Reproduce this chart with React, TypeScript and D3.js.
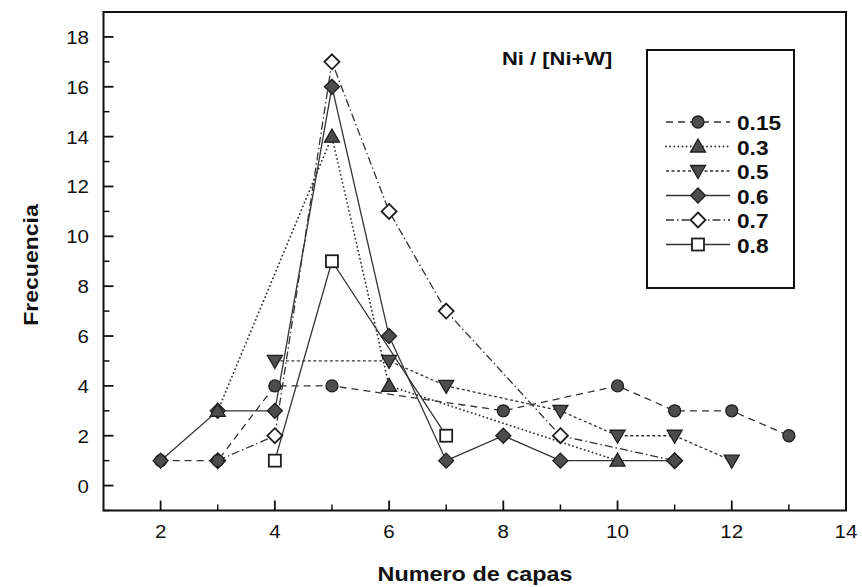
import React from "react";
import * as d3 from "d3";

const seriesLabels = ["0.15", "0.3", "0.5", "0.6", "0.7", "0.8"];
const x015 = [2, 3, 4, 5, 8, 10, 11, 12, 13];
const y015 = [1, 1, 4, 4, 3, 4, 3, 3, 2];
const x03 = [3, 5, 6, 10];
const y03 = [3, 14, 4, 1];
const x05 = [4, 6, 7, 9, 10, 11, 12];
const y05 = [5, 5, 4, 3, 2, 2, 1];
const x06 = [2, 3, 4, 5, 6, 7, 8, 9, 11];
const y06 = [1, 3, 3, 16, 6, 1, 2, 1, 1];
const x07 = [3, 4, 5, 6, 7, 9, 11];
const y07 = [1, 2, 17, 11, 7, 2, 1];
const x08 = [4, 5, 7];
const y08 = [1, 9, 2];

const xTicks = [2, 4, 6, 8, 10, 12, 14];
const yTicks = [0, 2, 4, 6, 8, 10, 12, 14, 16, 18];
const xMinor = [3, 5, 7, 9, 11, 13];
const yMinor = [-1, 1, 3, 5, 7, 9, 11, 13, 15, 17];

const legendTitle = "Ni / [Ni+W]";
const xTitle = "Numero de capas";
const yTitle = "Frecuencia";

type Shape = "circle" | "up" | "down" | "diamond" | "odiamond" | "square";

const styles: { shape: Shape; dash: string; cap: string }[] = [
  { shape: "circle", dash: "7 5", cap: "butt" },
  { shape: "up", dash: "0.1 4", cap: "round" },
  { shape: "down", dash: "3 2.5", cap: "butt" },
  { shape: "diamond", dash: "", cap: "butt" },
  { shape: "odiamond", dash: "8 3 1.5 3", cap: "butt" },
  { shape: "square", dash: "", cap: "butt" },
];

const seriesX = [x015, x03, x05, x06, x07, x08];
const seriesY = [y015, y03, y05, y06, y07, y08];

const W = 862;
const H = 587;
const L = 103.5, R = 846, T = 12, B = 510.5;

const FILL = "#4d4d4d";
const STROKE = "#1e1e1e";
const LINE = "#333";

function Marker({ shape, cx, cy }: { shape: Shape; cx: number; cy: number }) {
  const sw = 1.3;
  if (shape === "circle")
    return <circle cx={cx} cy={cy} r={6} fill={FILL} stroke={STROKE} strokeWidth={sw} />;
  if (shape === "up")
    return (
      <path d={`M${cx},${cy - 7.5}L${cx + 7.5},${cy + 5.5}L${cx - 7.5},${cy + 5.5}Z`} fill={FILL} stroke={STROKE} strokeWidth={sw} />
    );
  if (shape === "down")
    return (
      <path d={`M${cx},${cy + 7.5}L${cx + 7.5},${cy - 5.5}L${cx - 7.5},${cy - 5.5}Z`} fill={FILL} stroke={STROKE} strokeWidth={sw} />
    );
  if (shape === "diamond" || shape === "odiamond")
    return (
      <path
        d={`M${cx},${cy - 7.5}L${cx + 7.5},${cy}L${cx},${cy + 7.5}L${cx - 7.5},${cy}Z`}
        fill={shape === "diamond" ? FILL : "#fff"}
        stroke={STROKE}
        strokeWidth={shape === "diamond" ? sw : 1.8}
      />
    );
  return <rect x={cx - 6} y={cy - 6} width={12} height={12} fill="#fff" stroke={STROKE} strokeWidth={1.8} />;
}

function SText({ x, y, sx = 1.12, anchor = "start", size, bold = false, children, rotate = 0 }: any) {
  return (
    <g transform={`translate(${x},${y}) rotate(${rotate}) scale(${sx},1)`}>
      <text
        x={0}
        y={0}
        textAnchor={anchor}
        fontFamily="Liberation Sans, Arial, sans-serif"
        fontSize={size}
        fontWeight={bold ? "bold" : "normal"}
        fill="#111"
      >
        {children}
      </text>
    </g>
  );
}

export default function App() {
  const x = d3.scaleLinear().domain([1, 14]).range([L, R]);
  const y = d3.scaleLinear().domain([-1, 19]).range([B, T]);
  const line = d3.line<[number, number]>().x((d) => x(d[0])).y((d) => y(d[1]));
  const markerOrder = [4, 5, 0, 3, 1, 2];

  const legX0 = 666, legX1 = 730, legMid = 698, legText = 737;
  const legY = (i: number) => 122 + i * 24.5;

  return (
    <svg width={W} height={H} style={{ position: "absolute", left: 0, top: 0, background: "#fff" }}>
      <rect width={W} height={H} fill="#fff" />
      {seriesX.map((xs, i) => (
        <path
          key={"l" + i}
          d={line(xs.map((v, j) => [v, seriesY[i][j]]) as [number, number][]) || ""}
          fill="none"
          stroke={LINE}
          strokeWidth={i === 1 ? 1.8 : 1.3}
          strokeDasharray={styles[i].dash || undefined}
          strokeLinecap={styles[i].cap as any}
        />
      ))}
      {markerOrder.map((i) =>
        seriesX[i].map((v, j) => (
          <Marker key={`m${i}-${j}`} shape={styles[i].shape} cx={x(v)} cy={y(seriesY[i][j])} />
        ))
      )}
      <rect x={L} y={T} width={R - L} height={B - T} fill="none" stroke="#111" strokeWidth={2} />
      {xTicks.filter((t) => t < 14).map((t) => (
        <line key={"xt" + t} x1={x(t)} x2={x(t)} y1={B} y2={B - 10} stroke="#111" strokeWidth={1.8} />
      ))}
      {xMinor.map((t) => (
        <line key={"xm" + t} x1={x(t)} x2={x(t)} y1={B} y2={B - 6} stroke="#111" strokeWidth={1.5} />
      ))}
      {xTicks.map((t) => (
        <SText key={"xl" + t} x={x(t)} y={538} anchor="middle" size={19} sx={1.08}>
          {t}
        </SText>
      ))}
      {yTicks.map((t) => (
        <line key={"yt" + t} x1={L} x2={L + 10} y1={y(t)} y2={y(t)} stroke="#111" strokeWidth={1.8} />
      ))}
      {yMinor.map((t) => (
        <line key={"ym" + t} x1={L} x2={L + 6} y1={y(t)} y2={y(t)} stroke="#111" strokeWidth={1.5} />
      ))}
      {yTicks.map((t) => (
        <SText key={"yl" + t} x={89} y={y(t) + 7} anchor="end" size={19} sx={1.08}>
          {t}
        </SText>
      ))}
      <SText x={475} y={581} anchor="middle" size={20} bold sx={1.17}>
        {xTitle}
      </SText>
      <SText x={38} y={265} anchor="middle" size={20} bold sx={1.15} rotate={-90}>
        {yTitle}
      </SText>
      <SText x={502} y={65} size={18} bold sx={1.22}>
        {legendTitle}
      </SText>
      <rect x={647} y={50} width={147} height={238} fill="none" stroke="#111" strokeWidth={2} />
      {seriesLabels.map((lab, i) => (
        <g key={"lg" + i}>
          <line
            x1={legX0}
            x2={legX1}
            y1={legY(i)}
            y2={legY(i)}
            stroke={LINE}
            strokeWidth={i === 1 ? 1.8 : 1.3}
            strokeDasharray={styles[i].dash || undefined}
            strokeLinecap={styles[i].cap as any}
          />
          <Marker shape={styles[i].shape} cx={legMid} cy={legY(i)} />
          <SText x={legText} y={legY(i) + 8} size={21} bold sx={1.08}>
            {lab}
          </SText>
        </g>
      ))}
    </svg>
  );
}
